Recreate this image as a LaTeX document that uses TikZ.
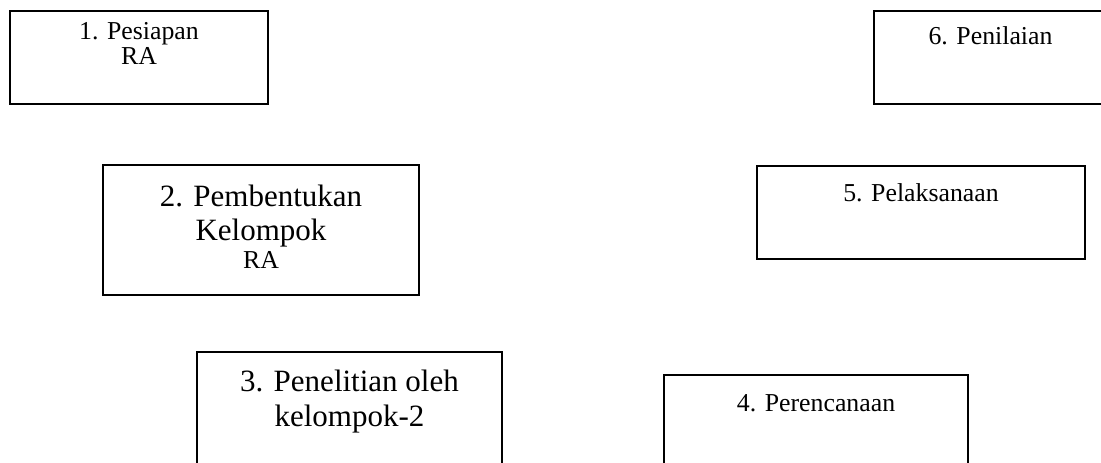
\documentclass[tikz,border=0pt]{standalone}
\usepackage{fontspec}
\setmainfont{Liberation Serif}
\begin{document}
\begin{tikzpicture}[x=1pt,y=-1pt,
  stage/.style={draw=black,line width=1.6pt,fill=none,inner sep=0pt,outer sep=0pt},
  small/.style={inner sep=0pt,anchor=base,font=\fontsize{25.8}{30}\selectfont},
  large/.style={inner sep=0pt,anchor=base,font=\fontsize{31}{37}\selectfont}]
\useasboundingbox (0,0) rectangle (1101,463);
\clip (0,0) rectangle (1101,463);

% stage boxes
\node[stage,minimum width=258pt,minimum height=93pt] (b1) at (139,57.5) {};
\node[stage,minimum width=233pt,minimum height=93pt] (b6) at (990.5,57.5) {};
\node[stage,minimum width=316pt,minimum height=130pt] (b2) at (261,230) {};
\node[stage,minimum width=328pt,minimum height=93pt] (b5) at (921,212.5) {};
\node[stage,minimum width=305pt,minimum height=140pt] (b3) at (349.5,422) {};
\node[stage,minimum width=304pt,minimum height=140pt] (b4) at (816,445) {};

% labels
\node[small] (t1a) at (139,39) {1. Pesiapan};
\node[small] (t1b) at (139,64) {RA};
\node[small] (t6) at (990.5,44) {6. Penilaian};
\node[large] (t2a) at (261,206) {2. Pembentukan};
\node[large] (t2b) at (261,240) {Kelompok};
\node[small] (t2c) at (261,268) {RA};
\node[small] (t5) at (921,201) {5. Pelaksanaan};
\node[large] (t3a) at (349.5,391) {3. Penelitian oleh};
\node[large] (t3b) at (349.5,426) {kelompok-2};
\node[small] (t4) at (816,411) {4. Perencanaan};
\end{tikzpicture}
\end{document}
